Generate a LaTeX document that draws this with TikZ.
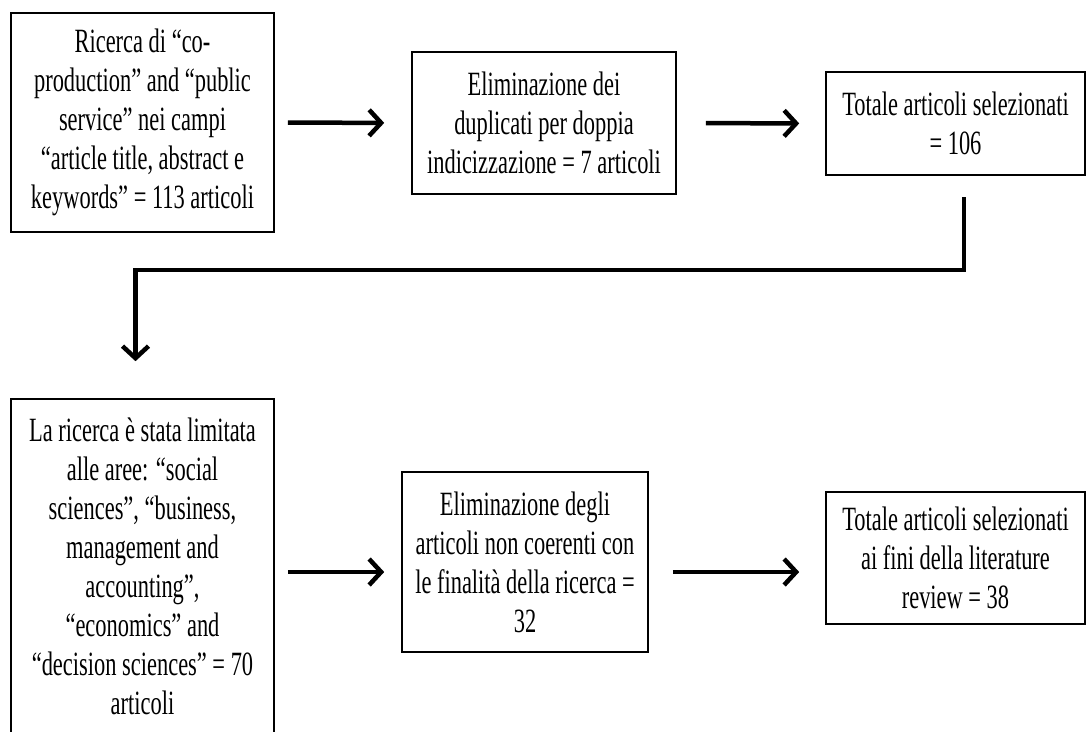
\documentclass[tikz,border=0pt]{standalone}
\usepackage{fontspec}
\setmainfont[FakeStretch=0.66]{Liberation Serif}
\usetikzlibrary{arrows.meta}

\tikzset{
  box/.style={draw, line width=1.6pt, align=center, inner sep=0pt,
    font=\fontsize{34}{39}\selectfont},
  flow/.style={line width=4.5pt, -{Straight Barb[length=12pt,width=26pt]}},
}

\begin{document}
\begin{tikzpicture}[x=1pt,y=-1pt]
	\useasboundingbox (0,0) rectangle (1087,731);
	% first row
	\node[box, minimum width=263, minimum height=219] (ricerca) at (142.5,122.5) {Ricerca di “co-\\production” and “public\\service” nei campi\\“article title, abstract e\\keywords” = 113 articoli};
	\node[box, minimum width=264, minimum height=142] (duplicati) at (544,123) {Eliminazione dei\\duplicati per doppia\\indicizzazione = 7 articoli};
	\node[box, minimum width=259, minimum height=103] (totale) at (955.5,123.5) {Totale articoli selezionati\\= 106};
	% second row
	\node[box, minimum width=263, minimum height=334] (limitata) at (142.5,566) {La ricerca è stata limitata\\alle aree: “social\\sciences”, “business,\\management and\\accounting”,\\“economics” and\\“decision sciences” = 70\\articoli};
	\node[box, minimum width=246, minimum height=180] (coerenti) at (525,562) {Eliminazione degli\\articoli non coerenti con\\le finalità della ricerca =\\32};
	\node[box, minimum width=259, minimum height=132] (review) at (955.5,558) {Totale articoli selezionati\\ai fini della literature\\review = 38};
	\coordinate (giu) at (964,197);
	\draw[flow, shorten <=13pt, shorten >=27pt] (ricerca.east) -- (duplicati.west);
	\draw[flow, shorten <=29pt, shorten >=26pt] (duplicati.east) -- (totale.west);
	\draw[flow, shorten >=37pt] (giu) -- (964,270) -| ([xshift=-7pt]limitata.north);
	\draw[flow, shorten <=13pt, shorten >=17pt] ([yshift=-6pt]limitata.east) -- ([yshift=-6pt]limitata.east -| coerenti.west);
	\draw[flow, shorten <=24pt, shorten >=26pt] ([yshift=-10pt]coerenti.east) -- ([yshift=-10pt]coerenti.east -| review.west);
\end{tikzpicture}
\end{document}
